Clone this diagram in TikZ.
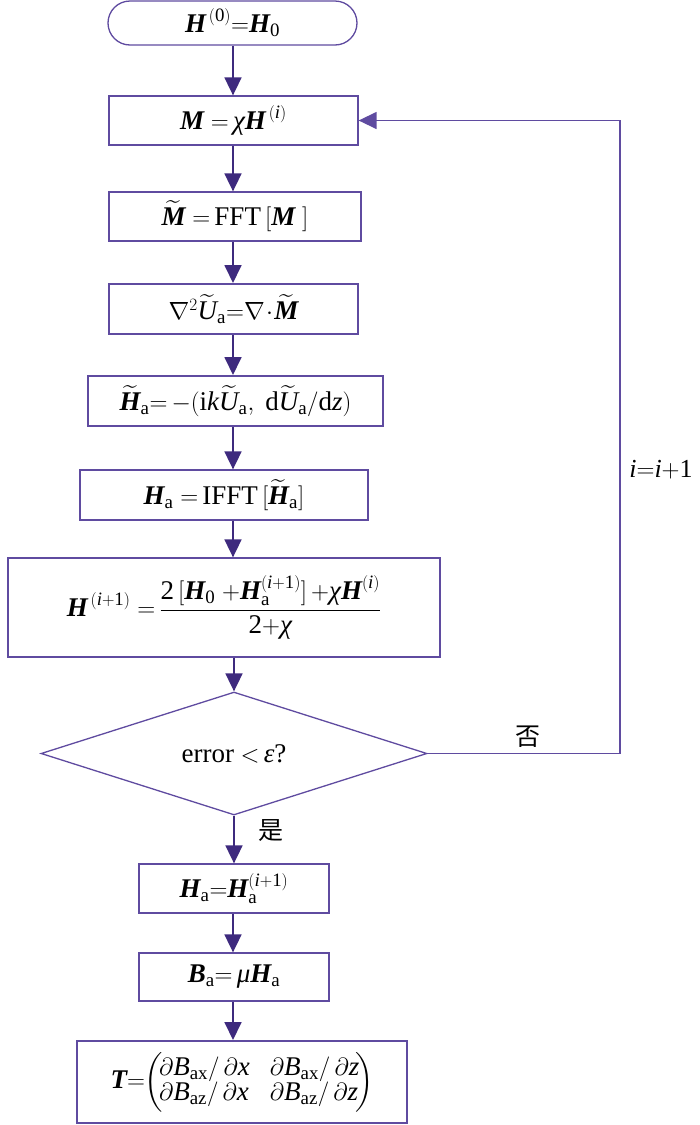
\documentclass[tikz,border=0pt]{standalone}
\usepackage{amsmath}
\usepackage{fontspec}
\setmainfont{Liberation Serif}
\newfontfamily\cjk{Noto Sans CJK SC}
\usetikzlibrary{shapes.geometric,arrows.meta}
\definecolor{lc}{RGB}{95,75,160}
\definecolor{ac}{RGB}{62,42,126}
\newcommand\tb[1]{\text{\bfseries\itshape #1}}
\newcommand\ti[1]{\text{\itshape #1}}
\newcommand\tr[1]{\text{\normalfont #1}}
\begin{document}
\begin{tikzpicture}[x=1pt,y=-1pt,
  box/.style={draw=lc, line width=1.3pt, inner sep=0pt, font=\fontsize{27}{31}\selectfont},
  thickbox/.style={box, line width=2pt},
  arr/.style={draw=ac, line width=1.8pt, -{Triangle[length=18pt,width=17pt]}},
  loopline/.style={draw=lc, line width=1.4pt, -{Triangle[length=18pt,width=17pt]}},
  lab/.style={inner sep=0pt, font=\fontsize{26}{30}\selectfont},
  cjklab/.style={inner sep=0pt, font=\cjk\fontsize{25}{25}\selectfont}
]
\useasboundingbox (0,0) rectangle (700,1125);
\coordinate (ax) at (233,0);
\coordinate (lx) at (620,0);

\node[box, rounded corners=22pt, minimum width=249pt, minimum height=44pt] (s) at (232.5,23)
  {$\tb{H}^{\,(\tr{0})}{=}\tb{H}_{\tr{0}}$};
\node[box, minimum width=249pt, minimum height=49pt] (b1) at (233.5,120.5)
  {$\tb{M}\ {=}\,\ti{χ}\tb{H}^{\,(\ti{i})}$};
\node[box, minimum width=252pt, minimum height=49pt] (b2) at (235,216.5)
  {$\widetilde{\tb{M}}\ {=}\,\tr{FFT}\,[\tb{M}\ ]$};
\node[thickbox, minimum width=249pt, minimum height=50pt] (b3) at (233.5,309)
  {$\nabla^{2}\widetilde{\ti{U}}_{\tr{a}}{=}\nabla\!\cdot\!\widetilde{\tb{M}}$};
\node[thickbox, minimum width=295pt, minimum height=50pt] (b4) at (235.5,401)
  {$\widetilde{\tb{H}}_{\tr{a}}{=}\,{-}(\tr{i}\ti{k}\widetilde{\ti{U}}_{\tr{a}},\ \tr{d}\widetilde{\ti{U}}_{\tr{a}}/\tr{d}\ti{z})$};
\node[box, minimum width=288pt, minimum height=50pt] (b5) at (224,495)
  {$\tb{H}_{\tr{a}}\ {=}\,\tr{IFFT}\,[\widetilde{\tb{H}}_{\tr{a}}]$};
\node[box, minimum width=432pt, minimum height=99pt] (b6) at (224,607.5)
  {$\tb{H}^{\,(\ti{i}+\tr{1})}\ {=}\,\dfrac{\tr{2}\,[\tb{H}_{\tr{0}}\ {+}\tb{H}_{\tr{a}}^{(\ti{i}+\tr{1})}]\,{+}\ti{χ}\tb{H}^{(\ti{i})}}{\tr{2}{+}\ti{χ}}$};
\node[box, shape=diamond, aspect=3.14, minimum width=386pt, minimum height=123pt] (d) at (234,753.5)
  {error ${<}\,\ti{ε}$?};
\node[box, minimum width=190pt, minimum height=49pt] (b7) at (234,888.5)
  {$\tb{H}_{\tr{a}}{=}\tb{H}_{\tr{a}}^{(\ti{i}+\tr{1})}$};
\node[box, minimum width=190pt, minimum height=48pt] (b8) at (234,977)
  {$\tb{B}_{\tr{a}}{=}\,\ti{μ}\tb{H}_{\tr{a}}$};
\node[thickbox, minimum width=330pt, minimum height=82pt] (b9) at (242,1082)
  {\setlength{\arraycolsep}{10pt}$\tb{T}{=}\!\left(\!\begin{array}{@{}ll@{}}\partial\ti{B}_{\tr{ax}}/\,\partial\ti{x} & \partial\ti{B}_{\tr{ax}}/\,\partial\ti{z}\\[-6pt]
   \partial\ti{B}_{\tr{az}}/\,\partial\ti{x} & \partial\ti{B}_{\tr{az}}/\,\partial\ti{z}\end{array}\!\right)$};

\node[cjklab] (no) at (528,737) {否};
\node[cjklab] (yes) at (271,831) {是};
\node[lab] (inc) at (661,470) {$\ti{i}{=}\ti{i}{+}\tr{1}$};

\draw[arr] (s.south -| ax) -- (b1.north -| ax);
\draw[arr] (b1.south -| ax) -- (b2.north -| ax);
\draw[arr] (b2.south -| ax) -- (b3.north -| ax);
\draw[arr] (b3.south -| ax) -- (b4.north -| ax);
\draw[arr] (b4.south -| ax) -- (b5.north -| ax);
\draw[arr] (b5.south -| ax) -- (b6.north -| ax);
\draw[arr] (b6.south -| d.north) -- (d.north);
\draw[arr] (d.south) -- (b7.north -| d.south);
\draw[arr] (b7.south -| ax) -- (b8.north -| ax);
\draw[arr] (b8.south -| ax) -- (b9.north -| ax);
\draw[loopline] (d.east) -- (d.east -| lx) |- (b1.east);
\end{tikzpicture}
\end{document}
